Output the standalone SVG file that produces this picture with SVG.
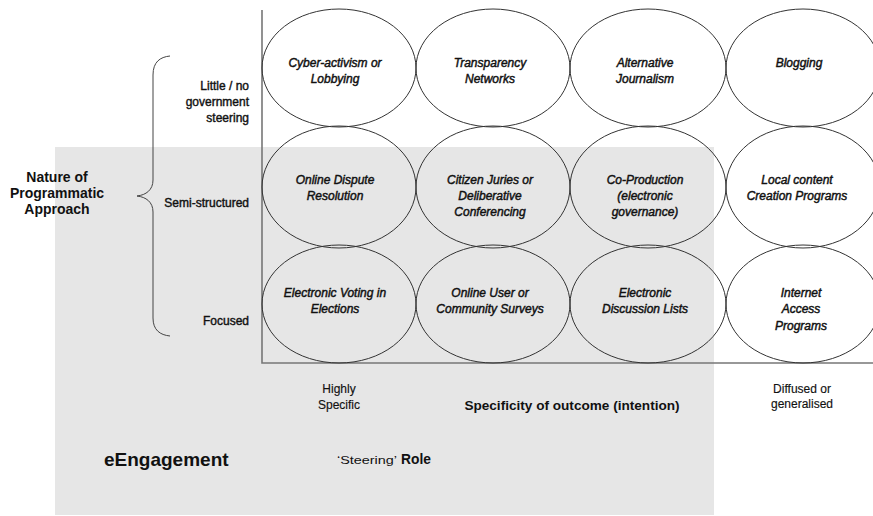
<svg xmlns="http://www.w3.org/2000/svg" width="873" height="516" viewBox="0 0 873 516">
<style>
text{font-family:"Liberation Sans",Arial,sans-serif;fill:#111}
.n{font-size:12px;font-style:italic;text-anchor:middle;stroke:#111;stroke-width:0.45}
.lab{font-size:12px;text-anchor:end;stroke:#111;stroke-width:0.4}
.reg{font-size:12px;text-anchor:middle;stroke:#111;stroke-width:0.15}
.b{font-weight:bold}
.el{fill:none;stroke:#333;stroke-width:1}
.ax{stroke:#777;stroke-width:1.6;fill:none}
</style>
<rect x="55" y="147" width="659" height="368" fill="#e6e6e6"/>
<g id="axes">
<path class="ax" d="M262,10 V363 H873"/>
</g>
<g id="brace">
<path d="M170,56 C160,57 153,62 153,75 L153,180 C153,190 146,195 137,196 C146,197 153,202 153,212 L153,318 C153,330 160,335 170,336" fill="none" stroke="#444" stroke-width="1"/>
</g>
<g id="labels-left">
<text x="57" y="182" class="b" font-size="14" text-anchor="middle">Nature of</text>
<text x="57" y="198" class="b" font-size="14" text-anchor="middle">Programmatic</text>
<text x="57" y="214" class="b" font-size="14" text-anchor="middle">Approach</text>
<text x="249" y="89.5" class="lab">Little / no</text>
<text x="249" y="105.5" class="lab">government</text>
<text x="249" y="121.5" class="lab">steering</text>
<text x="249" y="207" class="lab">Semi-structured</text>
<text x="249" y="325" class="lab">Focused</text>
</g>
<g id="n11"><ellipse class="el" cx="339" cy="68" rx="77" ry="59"/><text class="n" x="335" y="67">Cyber-activism or</text><text class="n" x="335" y="83">Lobbying</text></g>
<g id="n12"><ellipse class="el" cx="493" cy="68" rx="77" ry="59"/><text class="n" x="490" y="67">Transparency</text><text class="n" x="490" y="83">Networks</text></g>
<g id="n13"><ellipse class="el" cx="648" cy="68" rx="78" ry="59"/><text class="n" x="645" y="67">Alternative</text><text class="n" x="645" y="83">Journalism</text></g>
<g id="n14"><ellipse class="el" cx="803" cy="68" rx="77" ry="59"/><text class="n" x="799" y="67">Blogging</text></g>
<g id="n21"><ellipse class="el" cx="339" cy="187" rx="77" ry="61"/><text class="n" x="335" y="184">Online Dispute</text><text class="n" x="335" y="200">Resolution</text></g>
<g id="n22"><ellipse class="el" cx="493" cy="187" rx="77" ry="61"/><text class="n" x="490" y="184">Citizen Juries or</text><text class="n" x="490" y="200">Deliberative</text><text class="n" x="490" y="216">Conferencing</text></g>
<g id="n23"><ellipse class="el" cx="648" cy="187" rx="78" ry="61"/><text class="n" x="645" y="184">Co-Production</text><text class="n" x="645" y="200">(electronic</text><text class="n" x="645" y="216">governance)</text></g>
<g id="n24"><ellipse class="el" cx="803" cy="187" rx="77" ry="61"/><text class="n" x="797" y="184">Local content</text><text class="n" x="797" y="200">Creation Programs</text></g>
<g id="n31"><ellipse class="el" cx="339" cy="304" rx="77" ry="59"/><text class="n" x="335" y="297">Electronic Voting in</text><text class="n" x="335" y="313">Elections</text></g>
<g id="n32"><ellipse class="el" cx="493" cy="304" rx="77" ry="59"/><text class="n" x="490" y="297">Online User or</text><text class="n" x="490" y="313">Community Surveys</text></g>
<g id="n33"><ellipse class="el" cx="648" cy="304" rx="78" ry="59"/><text class="n" x="645" y="297">Electronic</text><text class="n" x="645" y="313">Discussion Lists</text></g>
<g id="n34"><ellipse class="el" cx="803" cy="304" rx="77" ry="59"/><text class="n" x="801" y="297">Internet</text><text class="n" x="801" y="313">Access</text><text class="n" x="801" y="330">Programs</text></g>
<g id="labels-bottom">
<text class="reg" x="339" y="393">Highly</text>
<text class="reg" x="339" y="409">Specific</text>
<text x="572" y="410" class="b" font-size="13.6" text-anchor="middle">Specificity of outcome (intention)</text>
<text class="reg" x="802" y="393">Diffused or</text>
<text class="reg" x="802" y="408">generalised</text>
<text x="104" y="466" class="b" font-size="19">eEngagement</text>
<text x="337" y="464" font-size="11" textLength="60" lengthAdjust="spacingAndGlyphs">‘Steering’</text>
<text x="401" y="464" class="b" font-size="13.8">Role</text>
</g>
</svg>
